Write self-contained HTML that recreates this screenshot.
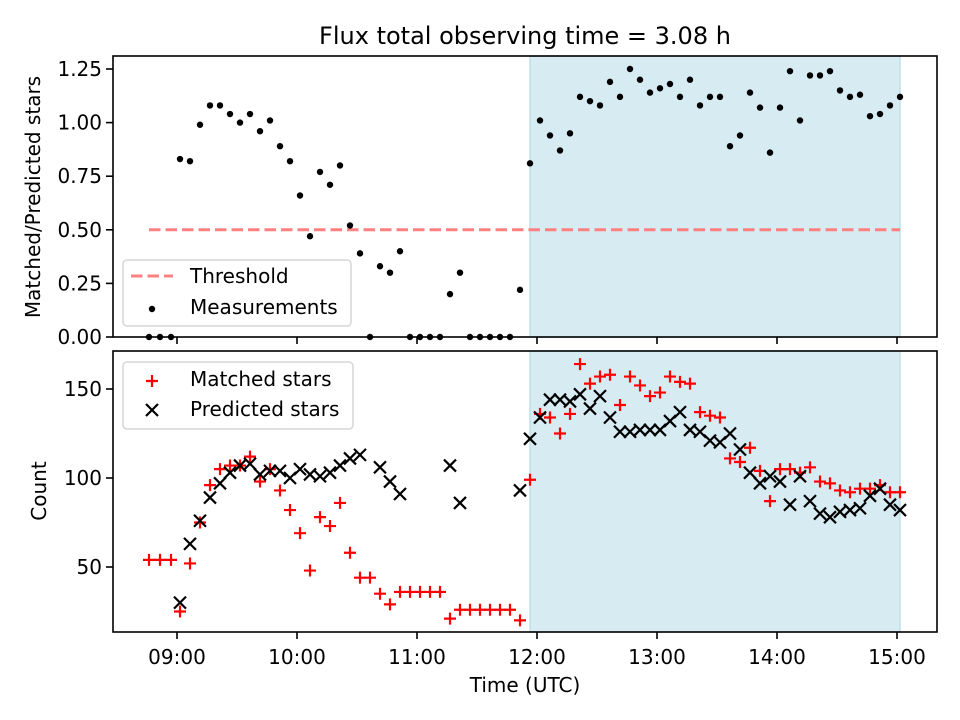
<!DOCTYPE html>
<html><head><meta charset="utf-8"><style>
html,body{margin:0;padding:0;background:#fff}
svg{display:block;font-family:"DejaVu Sans","Liberation Sans",sans-serif}
</style></head><body>
<svg id="chart" width="960" height="720" viewBox="0 0 960 720"></svg>
<script>
// minutes since 09:00 UTC
const times=[-14,-8.5,-3,1.5,6.5,11.5,16.5,21.5,26.5,31.5,36.5,41.5,46.5,51.5,56.5,61.5,66.5,71.5,76.5,81.5,86.5,91.5,96.5,101.5,106.5,111.5,116.5,121.5,126.5,131.5,136.5,141.5,146.5,151.5,156.5,161.5,166.5,171.5,176.5,181.5,186.5,191.5,196.5,201.5,206.5,211.5,216.5,221.5,226.5,231.5,236.5,241.5,246.5,251.5,256.5,261.5,266.5,271.5,276.5,281.5,286.5,291.5,296.5,301.5,306.5,311.5,316.5,321.5,326.5,331.5,336.5,341.5,346.5,351.5,356.5,361.5];
const ratio=[0,0,0,0.83,0.82,0.99,1.08,1.08,1.04,1.00,1.04,0.96,1.01,0.89,0.82,0.66,0.47,0.77,0.71,0.80,0.52,0.39,0,0.33,0.30,0.40,0,0,0,0,0.20,0.30,0,0,0,0,0,0.22,0.81,1.01,0.94,0.87,0.95,1.12,1.10,1.08,1.19,1.12,1.25,1.20,1.14,1.16,1.18,1.12,1.20,1.08,1.12,1.12,0.89,0.94,1.14,1.07,0.86,1.07,1.24,1.01,1.22,1.22,1.24,1.15,1.12,1.13,1.03,1.04,1.08,1.12];
const matched=[54,54,54,25,52,75,96,105,107,107,112,98,105,93,82,69,48,78,73,86,58,44,44,35,29,36,36,36,36,36,21,26,26,26,26,26,26,20,99,136,134,125,136,164,153,157,158,141,157,152,146,148,157,154,153,137,135,134,111,109,117,104,87,105,105,103,106,98,97,93,92,94,94,96,92,92];
const predicted=[null,null,null,30,63,76,89,97,103,107,108,102,104,104,100,105,102,101,103,107,111,113,null,106,98,91,null,null,null,null,107,86,null,null,null,null,null,93,122,134,144,144,143,147,139,146,134,126,126,127,127,127,132,137,127,126,121,120,125,116,103,97,101,98,85,101,87,80,78,81,82,83,90,94,85,82];
const threshold=0.5;
const shadeStart=176.5, shadeEnd=361.5;
const xTickMinutes=[0,60,120,180,240,300,360];
const xTickLabels=["09:00","10:00","11:00","12:00","13:00","14:00","15:00"];
const topTicks=[0,0.25,0.5,0.75,1.0,1.25];
const topTickLabels=["0.00","0.25","0.50","0.75","1.00","1.25"];
const botTicks=[50,100,150];
const botTickLabels=["50","100","150"];

const NS="http://www.w3.org/2000/svg";
const svg=document.getElementById('chart');
function mk(tag,attrs,parent){const e=document.createElementNS(NS,tag);for(const k in attrs)e.setAttribute(k,attrs[k]);(parent||svg).appendChild(e);return e;}
const X=t=>177+t*2;
const Yt=v=>337-v*214.4;
const Yb=v=>478-(v-100)*1.78;
const L=113,R=937,T1=56,B1=337,T2=351,B2=632;

let e=mk('text',{x:525,y:44,'text-anchor':'middle','font-size':'24'});e.textContent='Flux total observing time = 3.08 h';


[[T1,B1,'top'],[T2,B2,'bottom']].forEach(([t,b,n])=>{
  const r=mk('rect',{x:X(shadeStart),y:t,width:X(shadeEnd)-X(shadeStart),height:b-t,fill:'#d6ebf2',stroke:'#c0dfe9','stroke-width':1.5});
  
});

e=mk('line',{x1:X(times[0]),x2:X(shadeEnd),y1:Yt(threshold),y2:Yt(threshold),stroke:'#ff8080','stroke-width':3,'stroke-dasharray':'11.5,5'});


const gTop=mk('g',{});
times.forEach((t,i)=>{const c=mk('circle',{cx:X(t),cy:Yt(ratio[i]),r:3.2,fill:'#000'},gTop);
  });

function plus(x,y,g,col){return mk('path',{d:`M${x-6},${y}H${x+6}M${x},${y-6}V${y+6}`,stroke:col,'stroke-width':2.2,fill:'none'},g);}
function cross(x,y,g,col){return mk('path',{d:`M${x-6},${y-6}L${x+6},${y+6}M${x-6},${y+6}L${x+6},${y-6}`,stroke:col,'stroke-width':2.2,fill:'none'},g);}
const gM=mk('g',{});
times.forEach((t,i)=>{if(matched[i]==null)return;const p=plus(X(t),Yb(matched[i]),gM,'#ff0000');
  });
const gP=mk('g',{});
times.forEach((t,i)=>{if(predicted[i]==null)return;const p=cross(X(t),Yb(predicted[i]),gP,'#000');
  });

[[T1,B1,'top'],[T2,B2,'bottom']].forEach(([t,b,n])=>{
  const r=mk('rect',{x:L,y:t,width:R-L,height:b-t,fill:'none',stroke:'#000','stroke-width':1.6});
  
  xTickMinutes.forEach(m=>{const k=mk('line',{x1:X(m),x2:X(m),y1:b,y2:b+7,stroke:'#000','stroke-width':1.6});
    });
});
xTickMinutes.forEach((m,i)=>{const tx=mk('text',{x:X(m),y:664,'text-anchor':'middle','font-size':'20'});tx.textContent=xTickLabels[i];
  });
topTicks.forEach((v,i)=>{const k=mk('line',{x1:L-7,x2:L,y1:Yt(v),y2:Yt(v),stroke:'#000','stroke-width':1.6});
  
  const tx=mk('text',{x:L-11,y:Yt(v)+7,'text-anchor':'end','font-size':'20'});tx.textContent=topTickLabels[i];
  });
botTicks.forEach((v,i)=>{const k=mk('line',{x1:L-7,x2:L,y1:Yb(v),y2:Yb(v),stroke:'#000','stroke-width':1.6});
  
  const tx=mk('text',{x:L-11,y:Yb(v)+7,'text-anchor':'end','font-size':'20'});tx.textContent=botTickLabels[i];
  });

e=mk('text',{x:525,y:692,'text-anchor':'middle','font-size':'20'});e.textContent='Time (UTC)';

e=mk('text',{x:0,y:0,'text-anchor':'middle','font-size':'20',transform:'translate(40,197) rotate(-90)'});e.textContent='Matched/Predicted stars';

e=mk('text',{x:0,y:0,'text-anchor':'middle','font-size':'20',transform:'translate(46,491) rotate(-90)'});e.textContent='Count';


const lg1=mk('g',{});
mk('rect',{x:123,y:260,width:228,height:66,rx:4,fill:'rgba(255,255,255,0.8)',stroke:'#d6d6d6','stroke-width':1.5},lg1);
mk('line',{x1:131,x2:173,y1:276,y2:276,stroke:'#ff8080','stroke-width':3,'stroke-dasharray':'11.5,5'},lg1);
e=mk('text',{x:190,y:283,'font-size':'20'},lg1);e.textContent='Threshold';

mk('circle',{cx:152,cy:309,r:3.2,fill:'#000'},lg1);
e=mk('text',{x:190,y:314,'font-size':'20'},lg1);e.textContent='Measurements';


const lg2=mk('g',{});
mk('rect',{x:123,y:362,width:230,height:67,rx:4,fill:'rgba(255,255,255,0.8)',stroke:'#d6d6d6','stroke-width':1.5},lg2);
plus(152,381,lg2,'#ff0000');
e=mk('text',{x:190,y:386,'font-size':'20'},lg2);e.textContent='Matched stars';

cross(152,410,lg2,'#000');
e=mk('text',{x:190,y:416,'font-size':'20'},lg2);e.textContent='Predicted stars';

</script>
</body></html>
